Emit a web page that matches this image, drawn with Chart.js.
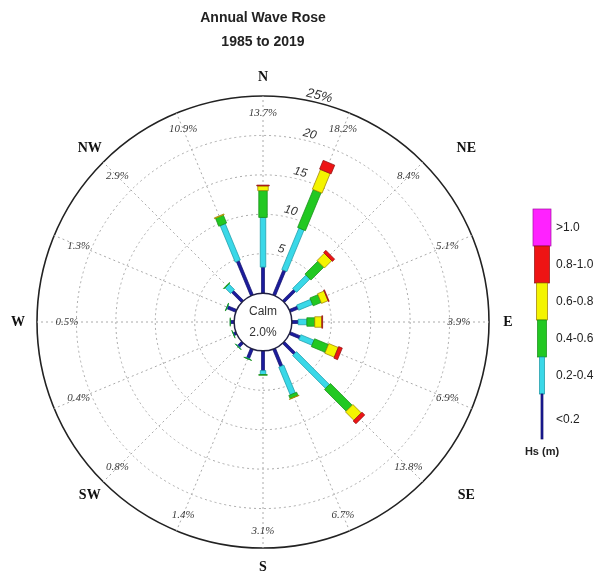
<!DOCTYPE html>
<html>
<head>
<meta charset="utf-8">
<script src="https://cdn.jsdelivr.net/npm/chart.js@4"></script>
<style>
  body { margin: 0; background: #fff; }
  canvas { display: block; }
</style>
</head>
<body>
<canvas id="rose" width="594" height="572"></canvas>
<script>
// 16 directions, clockwise from north
const directions = ["N", "NNE", "NE", "ENE", "E", "ESE", "SE", "SSE", "S", "SSW", "SW", "WSW", "W", "WNW", "NW", "NNW"];
const compassLabels = ["N", "", "NE", "", "E", "", "SE", "", "S", "", "SW", "", "W", "", "NW", ""];
const dirTotals = [13.7, 18.2, 8.4, 5.1, 3.9, 6.9, 13.8, 6.7, 3.1, 1.4, 0.8, 0.4, 0.5, 1.3, 2.9, 10.9];
const calmPct = 2.0;

// Hs bins, % of time per direction
const binLabels = ["<0.2", "0.2-0.4", "0.4-0.6", "0.6-0.8", "0.8-1.0", ">1.0"];
const hsLt02 = [3.3, 3.4, 2.0, 1.1, 0.8, 1.4, 2.0, 2.4, 2.5, 1.3, 0.7, 0.35, 0.45, 1.2, 1.8, 4.7];
const hs02to04 = [6.3, 5.7, 2.4, 1.9, 1.1, 1.8, 5.9, 3.8, 0.5, 0.08, 0.08, 0.04, 0.04, 0.08, 1.0, 5.0];
const hs04to06 = [3.4, 5.2, 2.3, 1.1, 1.0, 1.9, 3.9, 0.45, 0.1, 0.02, 0.02, 0.01, 0.01, 0.02, 0.1, 1.1];
const hs06to08 = [0.6, 2.7, 1.3, 0.9, 0.9, 1.3, 1.5, 0.05, 0, 0, 0, 0, 0, 0, 0, 0.1];
const hs08to10 = [0.1, 1.2, 0.4, 0.1, 0.1, 0.5, 0.5, 0, 0, 0, 0, 0, 0, 0, 0, 0];
const hsGt10 = [0, 0, 0, 0, 0, 0, 0, 0, 0, 0, 0, 0, 0, 0, 0, 0];

const ringTicks = [5, 10, 15, 20, 25];

const binColors = ["#1c1c9c", "#3ad8e8", "#22c822", "#f4f400", "#ee1414", "#ff22ff"];
const binEdges = ["#10106a", "#1896a4", "#138a13", "#9a7a00", "#8a1010", "#a010a0"];
const binWidths = [3, 5.5, 8.5, 10.5, 12.5, 14.5];

const binData = [hsLt02, hs02to04, hs04to06, hs06to08, hs08to10, hsGt10];

const rosePlugin = {
    id: "rose",
    afterDatasetsDraw(chart) {
        const ctx = chart.ctx;
        const scale = chart.scales.r;
        const cx = scale.xCenter, cy = scale.yCenter;

        // stacked bars
        directions.forEach((d, i) => {
            const a = scale.getIndexAngle(i) - Math.PI / 2;
            const px = -Math.sin(a), py = Math.cos(a);
            let cum = 0;
            chart.data.datasets.forEach((ds, b) => {
                const v = ds.data[i];
                if (!v) return;
                const p0 = scale.getPointPosition(i, scale.getDistanceFromCenterForValue(cum));
                cum += v;
                const p1 = scale.getPointPosition(i, scale.getDistanceFromCenterForValue(cum));
                const h = binWidths[b] / 2;
                ctx.beginPath();
                ctx.moveTo(p0.x + px * h, p0.y + py * h);
                ctx.lineTo(p1.x + px * h, p1.y + py * h);
                ctx.lineTo(p1.x - px * h, p1.y - py * h);
                ctx.lineTo(p0.x - px * h, p0.y - py * h);
                ctx.closePath();
                ctx.fillStyle = binColors[b];
                ctx.fill();
                ctx.strokeStyle = binEdges[b];
                ctx.lineWidth = 0.7;
                ctx.stroke();
            });
        });

        // calm circle
        const rCalm = scale.getDistanceFromCenterForValue(0);
        ctx.save();
        ctx.beginPath();
        ctx.arc(cx, cy, rCalm, 0, Math.PI * 2);
        ctx.fillStyle = "#fff";
        ctx.fill();
        ctx.strokeStyle = "#222244";
        ctx.lineWidth = 1.5;
        ctx.stroke();
        ctx.fillStyle = "#333";
        ctx.font = '12px "Liberation Sans", Arial, sans-serif';
        ctx.textAlign = "center";
        ctx.textBaseline = "middle";
        ctx.fillText("Calm", cx, cy - 10);
        ctx.fillText(calmPct.toFixed(1) + "%", cx, cy + 11);

        // direction totals inside the outer ring
        ctx.font = 'italic 11px "Liberation Serif", serif';
        ctx.fillStyle = "#3a3a3a";
        dirTotals.forEach((t, i) => {
            const s = Math.sin(scale.getIndexAngle(i));
            const dist = 209 - 13 * Math.pow(s, 4);
            const p = scale.getPointPosition(i, dist);
            ctx.fillText(t.toFixed(1) + "%", p.x, p.y);
        });

        // compass names outside
        ctx.font = 'bold 14px "Liberation Serif", serif';
        ctx.fillStyle = "#111";
        compassLabels.forEach((lab, i) => {
            if (!lab) return;
            const p = scale.getPointPosition(i, scale.drawingArea + 19);
            let x = p.x;
            if (lab === "NE" || lab === "SE") x += 30;
            ctx.fillText(lab, x, p.y);
        });

        // ring values along a ray 14 degrees east of north
        const rayIndex = 14 / (360 / directions.length);
        const rayAngle = 14 * Math.PI / 180;
        ringTicks.forEach(v => {
            const dist = scale.getDistanceFromCenterForValue(v) + 7;
            const p = scale.getPointPosition(rayIndex, dist);
            ctx.save();
            ctx.translate(p.x, p.y);
            ctx.rotate(rayAngle);
            ctx.fillStyle = "#333";
            ctx.font = v === 25 ? 'italic 13px "Liberation Sans", Arial, sans-serif' : 'italic 12px "Liberation Sans", Arial, sans-serif';
            ctx.fillText(v === 25 ? "25%" : String(v), 0, 0);
            ctx.restore();
        });

        // legend
        const lx = 542;
        const blockH = 37;
        const legTop = 209;
        ctx.textAlign = "left";
        ctx.font = '12px "Liberation Sans", Arial, sans-serif';
        for (let b = binLabels.length - 1, k = 0; b >= 0; b--, k++) {
            const y0 = legTop + k * blockH;
            const hgt = b === 0 ? 45 : blockH;
            const w = [2, 5, 9, 11, 15, 18][b];
            ctx.fillStyle = binColors[b];
            ctx.fillRect(lx - w / 2, y0, w, hgt);
            ctx.strokeStyle = binEdges[b];
            ctx.lineWidth = 0.7;
            ctx.strokeRect(lx - w / 2, y0, w, hgt);
            ctx.fillStyle = "#222";
            ctx.fillText(binLabels[b], 556, y0 + hgt / 2 + (b === 0 ? 3 : 0));
        }
        ctx.textAlign = "center";
        ctx.font = 'bold 11px "Liberation Sans", Arial, sans-serif';
        ctx.fillText("Hs (m)", lx, 452);
        ctx.restore();
    }
};

new Chart(document.getElementById("rose").getContext("2d"), {
    type: "radar",
    data: {
        labels: directions,
        datasets: binData.map((arr, b) => ({
            label: binLabels[b],
            data: arr,
            borderWidth: 0,
            backgroundColor: "rgba(0,0,0,0)",
            pointRadius: 0,
            pointHoverRadius: 0,
            fill: false
        }))
    },
    options: {
        responsive: false,
        animation: false,
        devicePixelRatio: 1,
        events: [],
        layout: { padding: { left: 36, right: 104, top: 0, bottom: 23 } },
        plugins: {
            legend: { display: false },
            tooltip: { enabled: false },
            title: {
                display: true,
                text: ["Annual Wave Rose", "1985 to 2019"],
                fullSize: false,
                color: "#222",
                font: { family: '"Liberation Sans", Arial, sans-serif', size: 14, weight: "bold", lineHeight: 1.72 },
                padding: { top: 6, bottom: 41 }
            }
        },
        scales: {
            r: {
                min: -3.66,
                max: 25,
                startAngle: 0,
                afterBuildTicks: scale => {
                    scale.ticks = ringTicks.map(v => ({ value: v }));
                },
                ticks: { display: false },
                pointLabels: { display: false },
                grid: {
                    circular: true,
                    color: c => (c.tick && c.tick.value === 25 ? "#222" : "#aaa"),
                    lineWidth: c => (c.tick && c.tick.value === 25 ? 1.6 : 1)
                },
                border: {
                    dash: c => (c.tick && c.tick.value === 25 ? [] : [2, 3])
                },
                angleLines: { color: "#aaa", lineWidth: 1, borderDash: [2, 3] }
            }
        }
    },
    plugins: [rosePlugin]
});
</script>
</body>
</html>
